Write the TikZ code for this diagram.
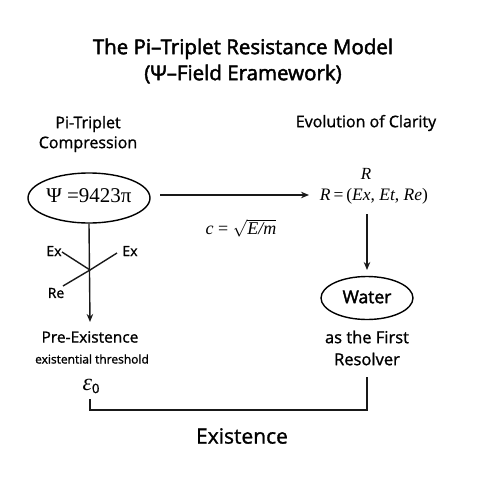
\documentclass[tikz,border=0pt]{standalone}
\usepackage{fontspec}
\setmainfont{Open Sans}[FakeBold=1.5]
\newfontfamily\medf{Open Sans}[FakeBold=1.2]
\newfontfamily\titlef{Open Sans}[FakeBold=2.2]
\newfontfamily\serf{Liberation Serif}
\usetikzlibrary{arrows.meta,shapes.geometric}
\begin{document}
\begin{tikzpicture}[x=1pt,y=-1pt,
  line/.style={line width=1.4pt,black!90},
  arr/.style={line width=1.4pt,black!90,-{Stealth[length=8pt,width=6.5pt]}},
  lbl/.style={font=\medf\fontsize{16}{20}\selectfont,align=center,inner sep=0pt},
  oval/.style={ellipse,draw,line width=1.4pt,inner sep=0pt},
  mth/.style={inner sep=0pt,font=\serf\fontsize{17}{20}\selectfont}]
\useasboundingbox[fill=white] (0,0) rectangle (480,480);
% title
\node[inner sep=0pt,font=\titlef\fontsize{20.5}{26}\selectfont,align=center] (title) at (243,61)
  {The Pi–Triplet Resistance Model\\(Ψ–Field Eramework)};
% column headings
\node[lbl] (hl) at (88,134) {Pi-Triplet\\Compression};
\node[lbl] (hr) at (366,123) {Evolution of Clarity};
% psi ellipse
\node[oval,minimum width=122pt,minimum height=50pt] (psi) at (89,198) {};
\node[mth,font=\serf\fontsize{21}{24}\selectfont] (psit) at (89,196) {Ψ =9423π};
% R
\node[mth] (Rtop) at (366,174) {\textit{R}};
\node[mth,font=\serf\fontsize{17.5}{20}\selectfont] (Req) at (374,196) {\textit{R}\,=\,(\textit{Ex}, \textit{Et}, \textit{Re})};
\coordinate (harrowend) at (309,195);
\coordinate (harrowstart) at (160,195);
\draw[arr] (harrowstart) -- (harrowend);
\node[inner sep=0pt,font=\serf\fontsize{18}{20}\selectfont] (cform) at (241,228)
  {\textit{c} = \(\sqrt{\mbox{\serf\itshape\fontsize{18}{20}\selectfont E/m}}\)};
% vertical left arrow with cross
\coordinate (vend) at (90,322);
\draw[arr] (psi.south) -- (vend);
\coordinate (xc) at (90,270);
\coordinate (exl) at (62,252);
\coordinate (exr) at (117,253);
\coordinate (rel) at (63,286);
\draw[line] (exl) -- (xc) -- (exr);
\draw[line] (xc) -- (rel);
\node[font=\medf\fontsize{14}{15}\selectfont,inner sep=0pt] (exlt) at (54,251) {Ex};
\node[font=\medf\fontsize{14}{15}\selectfont,inner sep=0pt] (exrt) at (130,251) {Ex};
\node[font=\medf\fontsize{14}{15}\selectfont,inner sep=0pt] (ret) at (56,293) {Re};
% pre-existence
\node[lbl,font=\medf\fontsize{15.5}{18}\selectfont] (pre) at (90,337) {Pre-Existence};
\node[inner sep=0pt,font=\medf\fontsize{12}{13}\selectfont] (thr) at (92,359) {existential threshold};
\node[inner sep=0pt] (eps) at (91,386) {{\serf\itshape\fontsize{24}{24}\selectfont ε}\raisebox{-3pt}{\medf\fontsize{13}{13}\selectfont 0}};
% right column
\coordinate (rvstart) at (367,214);
\coordinate (rvend) at (367,270);
\draw[arr] (rvstart) -- (rvend);
\node[oval,minimum width=92pt,minimum height=43pt] (water) at (367,298) {};
\node[lbl,font=\titlef\fontsize{17.5}{18}\selectfont] (watert) at (367,297) {Water};
\node[lbl,font=\medf\fontsize{16.5}{22}\selectfont] (first) at (367,348) {as the First\\Resolver};
% bracket
\coordinate (bl) at (90,399);
\coordinate (br) at (367,377);
\draw[line] (bl) -- (90,410) -- (367,410) -- (br);
\node[inner sep=0pt,font=\medf\fontsize{21}{24}\selectfont] (exist) at (242,436) {Existence};
\end{tikzpicture}
\end{document}
